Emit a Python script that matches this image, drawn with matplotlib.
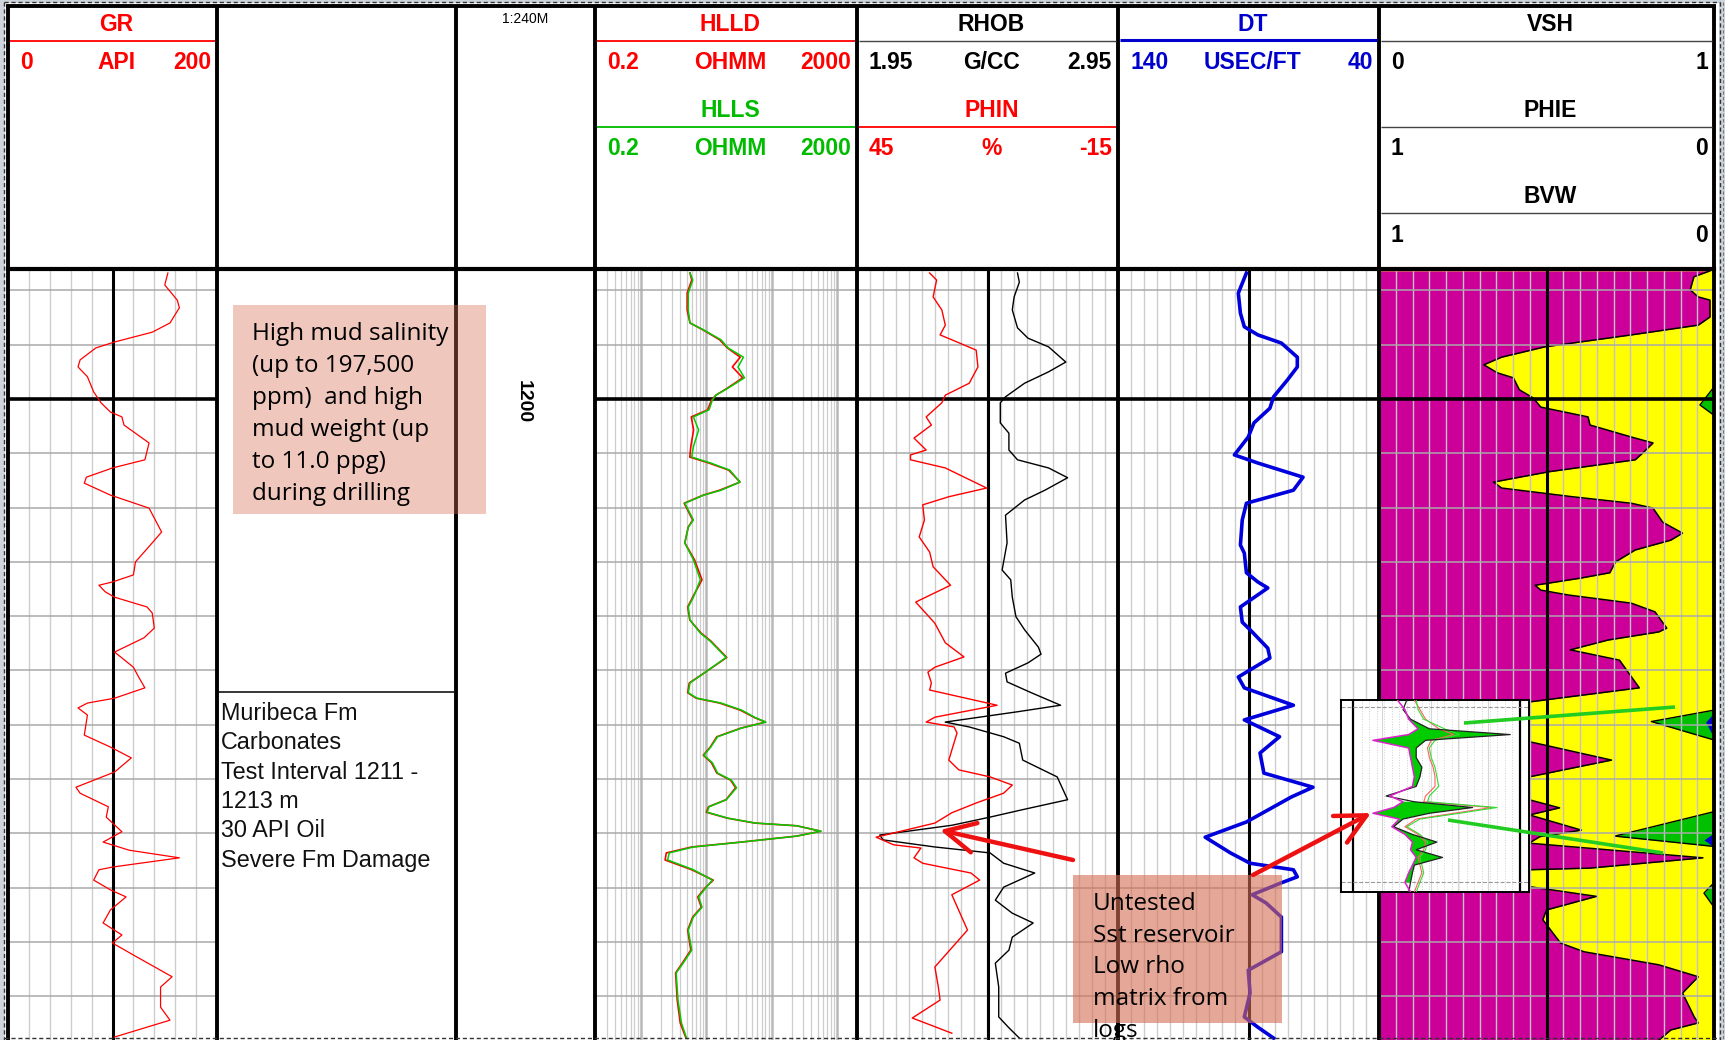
import numpy as np
import matplotlib
matplotlib.use("Agg")
import matplotlib.pyplot as plt
from matplotlib.patches import Rectangle
from matplotlib.ticker import NullLocator

# ---------------- data ----------------
gr_depth = [1197.68, 1197.90, 1198.18, 1198.32, 1198.60, 1198.77, 1198.95, 1199.06, 1199.28, 1199.41,
            1199.59, 1199.87, 1200.07, 1200.24, 1200.33, 1200.48, 1200.81, 1201.12, 1201.27, 1201.44,
            1201.55, 1201.77, 1202.01, 1202.45, 1202.65, 1203.00, 1203.24, 1203.37, 1203.43, 1203.55,
            1203.65, 1203.83, 1203.94, 1204.22, 1204.40, 1204.66, 1204.94, 1205.12, 1205.32, 1205.51,
            1205.60, 1205.69, 1205.82, 1206.19, 1206.41, 1206.61, 1206.87, 1207.15, 1207.26, 1207.51,
            1207.70, 1207.97, 1208.16, 1208.31, 1208.45, 1208.62, 1208.67, 1208.86, 1209.04, 1209.17,
            1209.41, 1209.65, 1209.87, 1210.02, 1210.24, 1210.64, 1210.83, 1211.20, 1211.44, 1211.75]
gr_api = [153, 150, 162, 164, 155, 138, 102, 84, 69, 67,
          76, 82, 89, 98, 109, 111, 135, 131, 100, 75,
          73, 98, 135, 147, 138, 122, 120, 100, 87, 93,
          102, 133, 138, 140, 130, 102, 120, 125, 131, 102,
          76, 67, 76, 73, 98, 118, 102, 65, 69, 96,
          94, 109, 91, 116, 164, 100, 87, 82, 98, 113,
          98, 91, 109, 100, 120, 157, 146, 146, 155, 102]

res_depth = [1197.68, 1197.81, 1198.05, 1198.36, 1198.60, 1198.73, 1198.91, 1199.06, 1199.23, 1199.41,
             1199.61, 1199.80, 1199.93, 1200.02, 1200.20, 1200.33, 1200.57, 1200.88, 1201.07, 1201.18,
             1201.31, 1201.53, 1201.68, 1201.77, 1201.92, 1202.23, 1202.36, 1202.65, 1202.96, 1203.33,
             1203.65, 1203.83, 1204.07, 1204.31, 1204.46, 1204.76, 1205.05, 1205.23, 1205.41, 1205.51,
             1205.60, 1205.73, 1205.87, 1205.95, 1206.06, 1206.22, 1206.41, 1206.56, 1206.70, 1206.89,
             1207.02, 1207.16, 1207.38, 1207.51, 1207.61, 1207.72, 1207.81, 1207.86, 1207.96, 1208.05,
             1208.16, 1208.25, 1208.36, 1208.49, 1208.67, 1208.86, 1209.01, 1209.17, 1209.36, 1209.54,
             1209.78, 1210.15, 1210.39, 1210.57, 1211.07, 1211.49, 1211.77]
hlls_ohmm = [5.64, 6.22, 5.31, 5.31, 5.64, 9.16, 16.8, 21.5, 36.9, 30.5,
             38.3, 21.5, 14.0, 12.4, 11.0, 6.36, 7.64, 6.36, 5.99, 11.7,
             22.8, 32.7, 16.8, 9.16, 4.70, 6.36, 5.31, 4.70, 6.36, 8.10,
             6.36, 5.31, 5.64, 8.10, 11.5, 20.1, 9.16, 5.64, 5.31, 7.21,
             16.8, 34.7, 56.4, 81.3, 34.7, 14.9, 11.7, 9.16, 12.4, 14.9,
             24.2, 29.0, 20.2, 11.0, 10.3, 21.5, 56.4, 242, 564, 242,
             34.7, 6.36, 2.72, 2.57, 6.36, 12.4, 9.73, 7.64, 8.61, 6.36,
             5.31, 5.99, 4.43, 3.47, 3.70, 4.17, 5.0]
hlld_ohmm = [5.64, 6.0, 5.1, 5.1, 5.64, 9.0, 16.0, 21.0, 33.0, 25.0,
             36.0, 21.0, 14.0, 12.0, 10.5, 5.9, 6.4, 5.8, 5.6, 11.0,
             22.0, 32.7, 16.0, 9.0, 4.6, 6.2, 5.3, 4.7, 6.6, 8.6,
             6.2, 5.2, 5.6, 8.3, 11.8, 20.5, 9.2, 5.5, 5.2, 7.0,
             16.0, 33.0, 55.0, 80.0, 34.0, 14.5, 11.5, 9.0, 12.0, 14.5,
             23.5, 28.0, 20.0, 10.8, 10.0, 21.0, 55.0, 240, 560, 240,
             34.0, 6.0, 2.45, 2.35, 6.0, 12.8, 9.5, 7.4, 8.4, 6.2,
             5.2, 5.8, 4.3, 3.4, 3.6, 4.0, 4.9]

rhob_depth = [1197.68, 1197.85, 1198.12, 1198.36, 1198.69, 1198.88, 1199.04, 1199.32, 1199.50, 1199.71,
              1199.96, 1200.07, 1200.44, 1200.63, 1200.94, 1201.12, 1201.27, 1201.45, 1201.68, 1201.86,
              1202.14, 1202.65, 1203.15, 1203.33, 1203.65, 1204.01, 1204.25, 1204.57, 1204.70, 1204.86,
              1205.05, 1205.21, 1205.41, 1205.64, 1205.76, 1205.95, 1206.04, 1206.22, 1206.34, 1206.65,
              1206.96, 1207.38, 1207.57, 1207.70, 1207.85, 1208.03, 1208.12, 1208.25, 1208.36, 1208.55,
              1208.73, 1208.99, 1209.23, 1209.47, 1209.65, 1209.91, 1210.15, 1210.39, 1210.83, 1211.38,
              1211.58, 1211.77]
rhob_gcc = [2.565, 2.572, 2.552, 2.545, 2.565, 2.605, 2.684, 2.750, 2.684, 2.592,
            2.519, 2.499, 2.499, 2.532, 2.532, 2.565, 2.684, 2.757, 2.670, 2.592,
            2.519, 2.525, 2.506, 2.539, 2.545, 2.559, 2.592, 2.645, 2.655, 2.605,
            2.519, 2.525, 2.618, 2.730, 2.565, 2.288, 2.380, 2.512, 2.572, 2.585,
            2.717, 2.757, 2.578, 2.460, 2.314, 2.037, 2.050, 2.248, 2.460, 2.512,
            2.631, 2.512, 2.480, 2.545, 2.625, 2.545, 2.532, 2.480, 2.493, 2.493,
            2.532, 2.572]

phin_depth = [1197.68, 1197.81, 1198.12, 1198.36, 1198.64, 1198.82, 1198.91, 1199.10, 1199.41, 1199.71,
              1199.93, 1200.07, 1200.33, 1200.48, 1200.72, 1200.94, 1201.03, 1201.12, 1201.27, 1201.64,
              1201.80, 1201.95, 1202.23, 1202.54, 1202.82, 1203.09, 1203.43, 1203.74, 1204.13, 1204.49,
              1204.75, 1204.94, 1205.03, 1205.23, 1205.36, 1205.64, 1205.86, 1205.95, 1206.04, 1206.15,
              1206.65, 1206.83, 1206.96, 1207.11, 1207.26, 1207.44, 1207.62, 1207.81, 1208.07, 1208.21,
              1208.27, 1208.45, 1208.55, 1208.73, 1208.86, 1209.13, 1209.78, 1210.46, 1210.83, 1211.07,
              1211.40, 1211.68]
phin_pct = [28.3, 26.7, 27.5, 25.5, 24.7, 25.9, 23.2, 17.6, 17.2, 19.2,
            24.7, 25.5, 29.1, 27.9, 31.9, 29.1, 32.7, 32.7, 24.7, 15.2,
            23.9, 29.9, 29.5, 30.7, 28.3, 27.5, 23.5, 31.5, 27.1, 24.7,
            20.4, 27.1, 28.7, 27.9, 28.3, 12.8, 27.1, 29.1, 22.7, 22.0,
            23.9, 21.6, 14.4, 9.3, 11.3, 17.6, 23.2, 27.1, 40.6, 36.6,
            30.3, 31.9, 29.9, 18.8, 16.8, 23.2, 19.6, 27.1, 26.3, 25.9,
            32.3, 23.2]

dt_depth = [1197.68, 1198.05, 1198.42, 1198.67, 1198.82, 1198.97, 1199.23, 1199.41, 1199.65, 1199.96,
            1200.17, 1200.44, 1200.70, 1201.03, 1201.18, 1201.44, 1201.68, 1201.92, 1202.23, 1202.69,
            1202.84, 1203.20, 1203.37, 1203.48, 1203.83, 1204.11, 1204.25, 1204.59, 1204.77, 1205.12,
            1205.32, 1205.64, 1205.91, 1206.22, 1206.52, 1206.89, 1207.15, 1207.33, 1207.79, 1208.07,
            1208.36, 1208.55, 1208.67, 1208.80, 1208.91, 1209.13, 1209.28, 1209.54, 1210.18, 1210.52,
            1210.94, 1211.38, 1211.57, 1211.77]
dt_us = [90.8, 93.9, 93.1, 91.6, 86.4, 77.4, 71.3, 71.3, 75.1, 80.4,
         81.8, 87.9, 90.1, 95.4, 86.4, 69.1, 72.8, 90.8, 92.4, 93.1,
         91.6, 90.8, 86.4, 82.6, 93.1, 92.4, 89.4, 82.6, 81.8, 93.9,
         91.6, 72.8, 91.6, 78.1, 85.6, 84.1, 65.3, 73.6, 90.8, 106.6,
         96.9, 89.4, 72.8, 71.3, 77.4, 88.6, 83.3, 77.4, 77.4, 90.1,
         89.4, 91.6, 86.4, 80.4]

vsh_depth = [1197.64, 1197.75, 1197.99, 1198.12, 1198.18, 1198.49, 1198.64, 1198.82, 1199.04, 1199.23,
             1199.37, 1199.52, 1199.61, 1199.83, 1199.98, 1200.15, 1200.33, 1200.48, 1200.70, 1200.81,
             1200.99, 1201.12, 1201.34, 1201.53, 1201.64, 1201.80, 1201.92, 1202.01, 1202.27, 1202.47,
             1202.60, 1202.78, 1203.00, 1203.20, 1203.30, 1203.43, 1203.52, 1203.61, 1203.76, 1203.92,
             1204.22, 1204.29, 1204.44, 1204.62, 1204.81, 1205.32, 1205.58, 1205.90, 1206.20, 1206.31,
             1206.65, 1206.96, 1207.20, 1207.38, 1207.53, 1207.66, 1207.94, 1208.06, 1208.18, 1208.45,
             1208.64, 1208.67, 1208.85, 1208.98, 1209.16, 1209.41, 1209.59, 1210.02, 1210.18, 1210.42,
             1210.64, 1210.94, 1211.38, 1211.49, 1211.62, 1211.81]
vsh_frac = [0.988, 0.940, 0.929, 0.953, 0.988, 0.988, 0.953, 0.753, 0.495, 0.366,
            0.313, 0.354, 0.401, 0.419, 0.460, 0.483, 0.624, 0.630, 0.753, 0.818,
            0.788, 0.765, 0.507, 0.342, 0.366, 0.577, 0.753, 0.818, 0.847, 0.906,
            0.871, 0.765, 0.706, 0.689, 0.601, 0.466, 0.483, 0.565, 0.753, 0.824,
            0.859, 0.835, 0.683, 0.571, 0.718, 0.777, 0.448, 0.400, 0.420, 0.448,
            0.694, 0.448, 0.400, 0.448, 0.539, 0.449, 0.604, 0.480, 0.448, 0.967,
            0.629, 0.448, 0.420, 0.448, 0.649, 0.500, 0.489, 0.542, 0.612, 0.835,
            0.953, 0.906, 0.941, 0.953, 0.871, 0.835]

phie_depth = [1197.64, 1199.78, 1200.11, 1200.30, 1205.73, 1205.94, 1206.28, 1207.60, 1208.05, 1208.24,
              1208.91, 1209.10, 1209.36, 1211.81]
phie_frac = [0, 0, 0.042, 0, 0, 0.187, 0, 0, 0.296, 0, 0, 0.03, 0, 0]

bvw_depth = [1197.64, 1205.78, 1205.95, 1206.24, 1207.99, 1208.12, 1208.25, 1211.81]
bvw_frac = [0, 0, 0.025, 0, 0, 0.03, 0, 0]

# miniature log shown in the pasted inset picture
inset_t = [0, 5, 10, 15, 18, 21, 25, 30, 35, 40, 45, 50, 53, 56, 59, 62, 66, 70, 74, 78, 82, 86, 90, 95, 100]
inset_mag = [30, 34, 36, 41, 36, 17, 36, 37, 38, 39, 38, 26, 33, 28, 17, 31, 27, 34, 38, 37, 40, 38, 36, 34, 37]
inset_blk = [35, 33, 37, 47, 90, 45, 40, 40, 43, 42, 40, 24, 39, 70, 47, 33, 28, 38, 51, 40, 54, 39, 38, 37, 36]
inset_grn = [40, 41, 44, 55, 63, 50, 47, 48, 50, 51, 52, 47, 46, 83, 63, 42, 35, 42, 46, 45, 42, 43, 44, 42, 40]
inset_red = [39, 42, 45, 52, 60, 48, 46, 47, 49, 50, 50, 45, 44, 80, 60, 40, 34, 41, 45, 44, 41, 42, 43, 41, 39]

# ---------------- layout ----------------
W, H = 1725, 1040
fig = plt.figure(figsize=(W / 100, H / 100), dpi=100)
fig.patch.set_facecolor('#cdd4db')

XS = [8, 217, 456, 595, 857, 1118, 1379, 1714]
DATA_TOP, DATA_BOT = 271, 1040
DEPTH_TOP, DEPTH_BOT = 1197.643, 1211.805

HEAD = ['Liberation Sans', 'DejaVu Sans']
NOTE = ['Open Sans', 'DejaVu Sans']

RED = '#ff0000'
GREEN = '#00cc00'
BLUE = '#0000dd'
MAGENTA = '#cc0099'
YELLOW = '#ffff00'
GRID_H = '#a9a9a9'
GRID_V = '#cdcdcd'


def frac_rect(x0, y0, x1, y1):
    return [x0 / W, 1 - y1 / H, (x1 - x0) / W, (y1 - y0) / H]


def pixel_axes(z):
    ax = fig.add_axes([0, 0, 1, 1], zorder=z)
    ax.set_xlim(0, W)
    ax.set_ylim(H, 0)
    ax.axis('off')
    return ax


def clean(ax):
    ax.xaxis.set_major_locator(NullLocator())
    ax.xaxis.set_minor_locator(NullLocator())
    ax.yaxis.set_major_locator(NullLocator())
    ax.yaxis.set_minor_locator(NullLocator())
    for s in ax.spines.values():
        s.set_visible(False)


def make_track(x0, x1, xlim, xscale='linear', z=1, face='white'):
    ax = fig.add_axes(frac_rect(x0, DATA_TOP, x1, DATA_BOT), zorder=z)
    ax.set_xscale(xscale)
    ax.set_xlim(*xlim)
    ax.set_ylim(DEPTH_BOT, DEPTH_TOP)
    ax.set_facecolor(face)
    clean(ax)
    return ax


def depth_grid(ax):
    for d in range(1198, 1212):
        ax.axhline(d, color=GRID_H, lw=1.1, zorder=2)
    ax.axhline(1200, color='black', lw=2.6, zorder=3)


base = pixel_axes(0)
base.add_patch(Rectangle((5, 3), 1714, 1040, facecolor='white', edgecolor='none'))

# Track 1: GR
ax1 = make_track(XS[0], XS[1], (0, 200))
for v in range(20, 200, 20):
    ax1.axvline(v, color=GRID_V, lw=1.0, zorder=1)
ax1.axvline(100, color='black', lw=2.2, zorder=3)
depth_grid(ax1)
ax1.plot(gr_api, gr_depth, color=RED, lw=0.9, zorder=4)

# Track 4: resistivity (log)
ax4 = make_track(XS[3], XS[4], (0.2, 2000), xscale='log')
for dec in [0.1, 1, 10, 100, 1000]:
    for k in range(1, 10):
        v = k * dec
        if 0.2 <= v <= 2000:
            if k == 1:
                ax4.axvline(v, color='#b8b8b8', lw=1.8, zorder=1)
            else:
                ax4.axvline(v, color=GRID_V, lw=0.9, zorder=1)
depth_grid(ax4)
ax4.plot(hlld_ohmm, res_depth, color=RED, lw=1.2, zorder=4)
ax4.plot(hlls_ohmm, res_depth, color=GREEN, lw=1.1, zorder=5)

# Track 5: RHOB / PHIN
ax5 = make_track(XS[4], XS[5], (1.95, 2.95))
for v in np.arange(2.0, 2.949, 0.05):
    ax5.axvline(v, color=GRID_V, lw=1.0, zorder=1)
ax5.axvline(2.45, color='black', lw=2.2, zorder=3)
depth_grid(ax5)
ax5.plot(rhob_gcc, rhob_depth, color='black', lw=1.0, zorder=4)
ax5b = make_track(XS[4], XS[5], (45, -15), z=1.5, face='none')
ax5b.plot(phin_pct, phin_depth, color=RED, lw=1.0, zorder=4)

# Track 6: DT
ax6 = make_track(XS[5], XS[6], (140, 40))
for v in range(45, 140, 5):
    ax6.axvline(v, color=GRID_V, lw=1.0, zorder=1)
ax6.axvline(90, color='black', lw=2.2, zorder=3)
depth_grid(ax6)
ax6.plot(dt_us, dt_depth, color=BLUE, lw=2.6, zorder=4)

# Track 7: VSH / PHIE / BVW
ax7 = make_track(XS[6], XS[7], (0, 1), face=YELLOW)
ax7.fill_betweenx(vsh_depth, 0, vsh_frac, color=MAGENTA, lw=0, zorder=1)
ax7.plot(vsh_frac, vsh_depth, color='black', lw=1.1, zorder=2)
ax7b = make_track(XS[6], XS[7], (1, 0), z=1.5, face='none')
ax7b.fill_betweenx(phie_depth, 0, phie_frac, color='#00c000', lw=0, zorder=1)
ax7b.plot(phie_frac, phie_depth, color='black', lw=1.0, zorder=1.5)
ax7b.fill_betweenx(bvw_depth, 0, bvw_frac, color='#0000cc', lw=0, zorder=1.6)
for v in np.arange(0.05, 0.96, 0.05):
    ax7b.axvline(v, color='#c8c0c8', lw=1.0, zorder=2)
ax7b.axvline(0.5, color='black', lw=2.2, zorder=3)
depth_grid(ax7b)

# ---------------- frame, header ----------------
fr = pixel_axes(5)
for x in XS:
    fr.plot([x, x], [5, H], color='black', lw=2.8, solid_capstyle='butt')
fr.plot([XS[0], XS[-1]], [6, 6], color='black', lw=2.8)
fr.plot([XS[0], XS[-1]], [269, 269], color='black', lw=3.0)


def hline(x0, x1, y, color, lw=1.3):
    fr.plot([x0 + 2, x1 - 2], [y, y], color=color, lw=lw, solid_capstyle='butt')


def htext(x, y, s, color, ha='center', size=16.5):
    fr.text(x, y, s, color=color, ha=ha, va='baseline', fontsize=size,
            fontweight='bold', family=HEAD)


def scale_row(x0, x1, y, left, mid, right, color):
    htext(x0 + 12, y, left, color, ha='left')
    htext((x0 + x1) / 2 + 4, y, mid, color)
    htext(x1 - 6, y, right, color, ha='right')


T_BASE, L1, S1, T2, L2, S2, T3, L3, S3 = 31, 41, 69, 117, 127, 155, 203, 213, 242

# GR
htext((XS[0] + XS[1]) / 2 + 4, T_BASE, 'GR', RED)
hline(XS[0], XS[1], L1, RED)
scale_row(XS[0], XS[1], S1, '0', 'API', '200', RED)
# depth track
fr.text(525, 23, '1:240M', ha='center', va='baseline', fontsize=10, family=HEAD)
fr.text(523, 402, '1200', ha='center', va='center', rotation=-90, fontsize=14,
        fontweight='bold', family=HEAD)
# resistivity
htext((XS[3] + XS[4]) / 2 + 4, T_BASE, 'HLLD', RED)
hline(XS[3], XS[4], L1, RED)
scale_row(XS[3], XS[4], S1, '0.2', 'OHMM', '2000', RED)
htext((XS[3] + XS[4]) / 2 + 4, T2, 'HLLS', '#00bb00')
hline(XS[3], XS[4], L2, '#00bb00')
scale_row(XS[3], XS[4], S2, '0.2', 'OHMM', '2000', '#00bb00')
# density / neutron
htext((XS[4] + XS[5]) / 2 + 4, T_BASE, 'RHOB', 'black')
hline(XS[4], XS[5], L1, '#444444', lw=1.0)
scale_row(XS[4], XS[5], S1, '1.95', 'G/CC', '2.95', 'black')
htext((XS[4] + XS[5]) / 2 + 4, T2, 'PHIN', RED)
hline(XS[4], XS[5], L2, RED)
scale_row(XS[4], XS[5], S2, '45', '%', '-15', RED)
# DT
htext((XS[5] + XS[6]) / 2 + 4, T_BASE, 'DT', '#0000cc')
hline(XS[5], XS[6], L1 - 1, '#0000cc', lw=2.2)
scale_row(XS[5], XS[6], S1, '140', 'USEC/FT', '40', '#0000cc')
# VSH / PHIE / BVW
htext((XS[6] + XS[7]) / 2 + 4, T_BASE, 'VSH', 'black')
hline(XS[6], XS[7], L1, '#444444', lw=1.0)
scale_row(XS[6], XS[7], S1, '0', '', '1', 'black')
htext((XS[6] + XS[7]) / 2 + 4, T2, 'PHIE', 'black')
hline(XS[6], XS[7], L2, '#444444', lw=1.0)
scale_row(XS[6], XS[7], S2, '1', '', '0', 'black')
htext((XS[6] + XS[7]) / 2 + 4, T3, 'BVW', 'black')
hline(XS[6], XS[7], L3, '#444444', lw=1.0)
scale_row(XS[6], XS[7], S3, '1', '', '0', 'black')

# test interval note in track 2
hline(XS[1], XS[2], 692, 'black', lw=1.1)
for i, line in enumerate(['Muribeca Fm', 'Carbonates', 'Test Interval 1211 -', '1213 m',
                          '30 API Oil', 'Severe Fm Damage']):
    fr.text(221, 720 + i * 29.3, line, ha='left', va='baseline', fontsize=16.8,
            family=HEAD, color='#111111')

# ---------------- inset picture ----------------
ins = fig.add_axes(frac_rect(1341, 700, 1529, 892), zorder=6)
ins.set_xlim(0, 100)
ins.set_ylim(100, 0)
ins.set_facecolor('white')
ins.xaxis.set_major_locator(NullLocator())
ins.yaxis.set_major_locator(NullLocator())
for s in ins.spines.values():
    s.set_linewidth(1.4)
for v in range(11, 94, 4):
    ins.axvline(v, color='#cfcfcf', lw=0.7, ls=':', zorder=1)
for v in [22, 48, 62, 78]:
    ins.axvline(v, color='#d6d6d6', lw=0.8, zorder=1)
ins.axvline(6.4, color='black', lw=1.6, zorder=2)
ins.axvline(95.2, color='black', lw=1.6, zorder=2)
ins.axhline(3.6, color='#9a9a9a', lw=0.8, ls='--', zorder=2)
ins.axhline(94.8, color='#9a9a9a', lw=0.8, ls='--', zorder=2)
t_arr = np.array(inset_t)
m_arr = np.array(inset_mag)
b_arr = np.array(inset_blk)
ins.fill_betweenx(t_arr, m_arr, b_arr, where=b_arr > m_arr, color='#00cc00', lw=0, zorder=3)
ins.plot(inset_red, inset_t, color='#ff6060', lw=0.8, zorder=4)
ins.plot(inset_grn, inset_t, color='#33dd33', lw=0.8, zorder=4)
ins.plot(inset_blk, inset_t, color='#222222', lw=0.9, zorder=5)
ins.plot(inset_mag, inset_t, color='#dd22cc', lw=1.1, zorder=6)

# ---------------- overlay annotations ----------------
ov = pixel_axes(7)
BOX_RGB = (213 / 255, 109 / 255, 82 / 255)
ov.add_patch(Rectangle((233, 305), 253, 209, facecolor=BOX_RGB, alpha=0.38, edgecolor='none'))
for i, line in enumerate(['High mud salinity', '(up to 197,500', 'ppm)  and high',
                          'mud weight (up', 'to 11.0 ppg)', 'during drilling']):
    ov.text(252, 340 + i * 32, line, ha='left', va='baseline', fontsize=17.5,
            family=NOTE, color='black')

ov.add_patch(Rectangle((1073, 875), 209, 148, facecolor=BOX_RGB, alpha=0.6, edgecolor='none'))
for i, line in enumerate(['Untested', 'Sst reservoir', 'Low rho', 'matrix from', 'logs']):
    ov.text(1093, 910 + i * 31.7, line, ha='left', va='baseline', fontsize=17.5,
            family=NOTE, color='black')

ov.plot([1464, 1675], [723, 707], color='#22cc22', lw=2.6, solid_capstyle='butt')
ov.plot([1448, 1663], [820, 853], color='#22cc22', lw=2.6, solid_capstyle='butt')

arrow_kw = dict(arrowstyle='->,head_length=1.2,head_width=0.6', color='#ee1111', lw=3.2,
                mutation_scale=18, shrinkA=0, shrinkB=0)
ov.annotate('', xy=(940, 830), xytext=(1073, 860), arrowprops=arrow_kw)
ov.annotate('', xy=(1371, 813), xytext=(1253, 875), arrowprops=arrow_kw)

# screenshot dashed outline
dash = dict(color='#333333', lw=1.0, ls=(0, (3, 2)))
ov.plot([4, 4], [2, H], **dash)
ov.plot([1720, 1720], [2, H], **dash)
ov.plot([1723, 1723], [2, H], color='#777777', lw=0.8, ls=(0, (3, 2)))
ov.plot([4, 1720], [2, 2], **dash)
ov.plot([4, 1720], [1038, 1038], **dash)

fig.savefig('out.png', dpi=100, facecolor=fig.get_facecolor())
